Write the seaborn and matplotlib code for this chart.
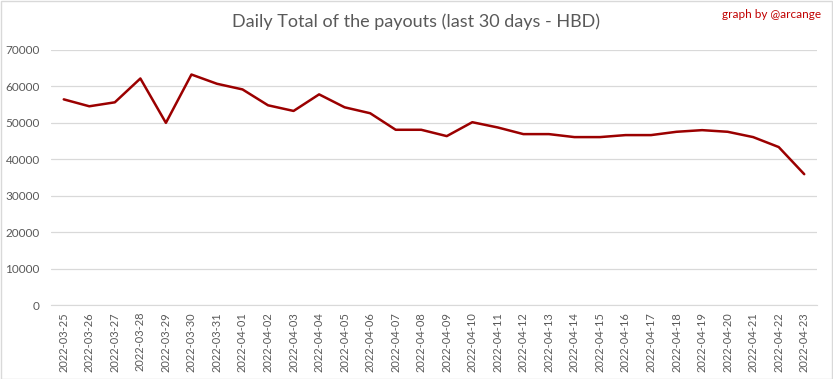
import seaborn as sns
import matplotlib.pyplot as plt
import pandas as pd

# daily payouts (HBD)
dates = ['2022-03-25', '2022-03-26', '2022-03-27', '2022-03-28', '2022-03-29',
         '2022-03-30', '2022-03-31', '2022-04-01', '2022-04-02', '2022-04-03',
         '2022-04-04', '2022-04-05', '2022-04-06', '2022-04-07', '2022-04-08',
         '2022-04-09', '2022-04-10', '2022-04-11', '2022-04-12', '2022-04-13',
         '2022-04-14', '2022-04-15', '2022-04-16', '2022-04-17', '2022-04-18',
         '2022-04-19', '2022-04-20', '2022-04-21', '2022-04-22', '2022-04-23']
payouts = [56450, 54550, 55640, 62180, 50000,
           63270, 60730, 59180, 54820, 53270,
           57820, 54270, 52640, 48100, 48100,
           46360, 50180, 48730, 46910, 46910,
           46090, 46090, 46640, 46640, 47550,
           48000, 47550, 46090, 43360, 35910]
y_ticks = [0, 10000, 20000, 30000, 40000, 50000, 60000, 70000]

df = pd.DataFrame({'date': dates, 'payout': payouts})

sns.set_style('white')
plt.rcParams['font.family'] = ['Lato', 'DejaVu Sans']

fig = plt.figure(figsize=(8.33, 3.79), dpi=100)
ax = fig.add_axes([51 / 833, 1 - 305 / 379, 766 / 833, 255 / 379])

sns.lineplot(data=df, x='date', y='payout', color='#9b0000', linewidth=1.8, ax=ax)

ax.set_xlim(-0.5, len(dates) - 0.5)
ax.set_ylim(0, 70000)
ax.set_yticks(y_ticks)
ax.set_yticklabels([str(v) for v in y_ticks])
ax.yaxis.grid(True, color='#d9d9d9', linewidth=0.9)
ax.set_axisbelow(True)
ax.set_xlabel('')
ax.set_ylabel('')
for side in ['top', 'right', 'left']:
    ax.spines[side].set_visible(False)
ax.spines['bottom'].set_color('#d9d9d9')
ax.tick_params(axis='x', rotation=90, labelsize=8, colors='#595959', length=0, pad=5)
ax.tick_params(axis='y', labelsize=8.5, colors='#595959', length=0, pad=8)

fig.text(0.5, 1 - 22 / 379, 'Daily Total of the payouts (last 30 days - HBD)',
         ha='center', va='center', fontsize=13, color='#595959')
fig.text(1 - 12 / 833, 1 - 15 / 379, 'graph by @arcange',
         ha='right', va='center', fontsize=8.5, color='#c00000')

# light outer frame like the original export
fig.patches.append(plt.Rectangle((0.001, 0.001), 0.998, 0.997, transform=fig.transFigure,
                                 fill=False, edgecolor='#d9d9d9', linewidth=1))

fig.savefig('out.png', dpi=100)
